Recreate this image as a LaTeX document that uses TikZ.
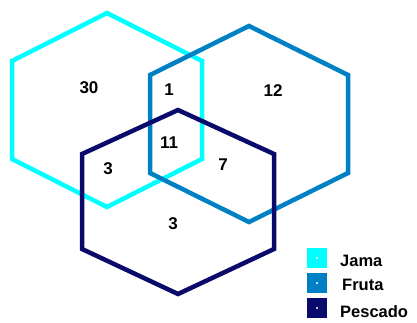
\documentclass[tikz,border=0pt]{standalone}
\usepackage{fontspec}
\setmainfont{Liberation Sans}
\usetikzlibrary{positioning}
\definecolor{jama}{HTML}{00FFFF}
\definecolor{fruta}{HTML}{0080C4}
\definecolor{pescado}{HTML}{0A0A6C}
\begin{document}
\begin{tikzpicture}[x=1pt,y=-1pt,
  hexa/.style={line width=4.5pt},
  count/.style={font=\fontsize{17}{17}\selectfont\bfseries,inner sep=0pt},
  key/.style={minimum size=20pt,inner sep=0pt},
  keytext/.style={font=\fontsize{16.5}{17}\selectfont\bfseries,inner sep=0pt,anchor=base west}]
\useasboundingbox (0,0) rectangle (417,322);
% the three sets
\draw[hexa,jama] (107,13) -- (202,61) -- (202,159) -- (107,207) -- (12,159) -- (12,61) -- cycle;
\draw[hexa,fruta] (249,26) -- (348,75) -- (348,173) -- (249,222) -- (150,173) -- (150,75) -- cycle;
\draw[hexa,pescado] (178,110) -- (274,154) -- (274,249) -- (178,294) -- (82,249) -- (82,154) -- cycle;
% counts
\node[count] (jama only) at (89,88) {30};
\node[count] (jama fruta) at (169,90) {1};
\node[count] (fruta only) at (273,91) {12};
\node[count] (all three) at (169,143) {11};
\node[count] (jama pescado) at (108,169) {3};
\node[count] (fruta pescado) at (223,165) {7};
\node[count] (pescado only) at (173,224) {3};
% legend
\node[key,fill=jama] (key jama) at (317,258) {};
\node[key,fill=fruta] (key fruta) at (317,283) {};
\node[key,fill=pescado] (key pescado) at (317,308) {};
\foreach \k in {jama,fruta,pescado}
  \fill[white] (key \k.center) circle (1.2);
\node[keytext] (text jama) at (340,266) {Jama};
\node[keytext] (text fruta) at (342,290) {Fruta};
\node[keytext] (text pescado) at (340,317) {Pescado};
\end{tikzpicture}
\end{document}
